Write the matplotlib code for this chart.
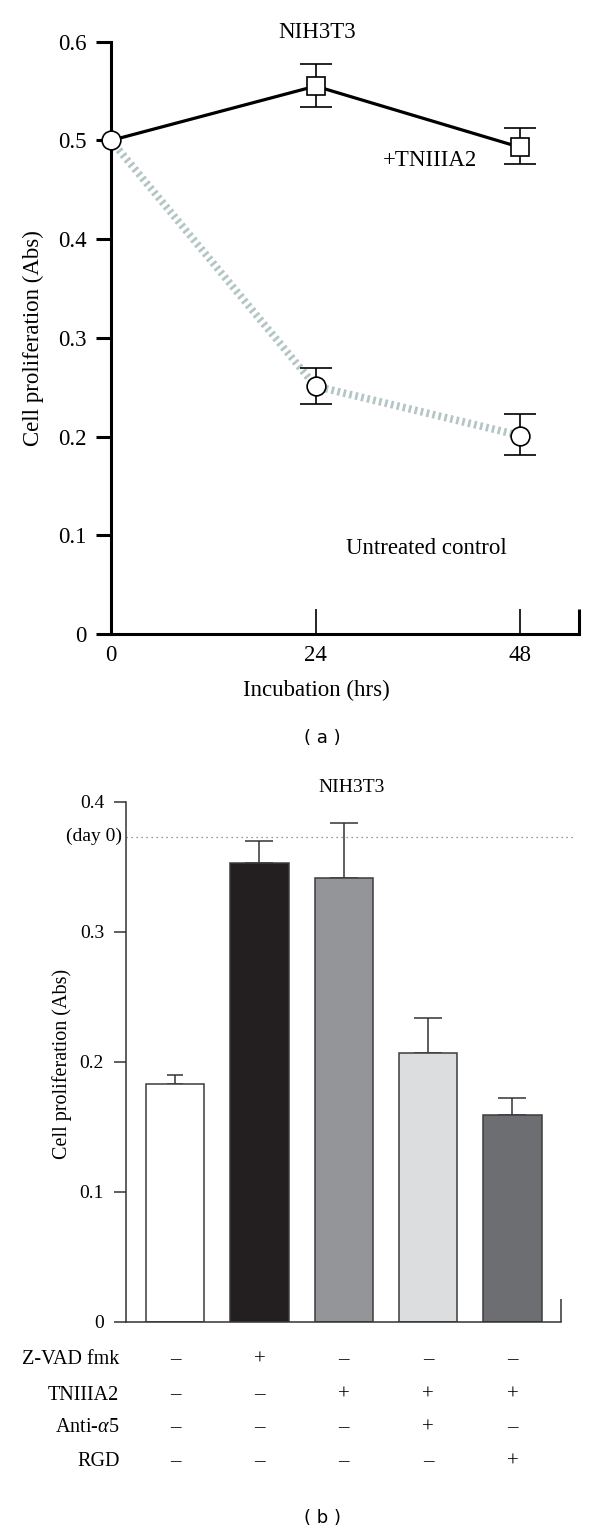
import matplotlib
matplotlib.use("Agg")
import matplotlib.pyplot as plt
import matplotlib.transforms as mtransforms

# ---------------- data ----------------
hours = [0, 24, 48]
tn_mean = [0.500, 0.555, 0.493]
tn_err_lo = [0.0, 0.021, 0.017]
tn_err_hi = [0.0, 0.022, 0.020]
ctrl_mean = [0.500, 0.251, 0.201]
ctrl_err_lo = [0.0, 0.018, 0.020]
ctrl_err_hi = [0.0, 0.018, 0.022]
top_yticks = [0, 0.1, 0.2, 0.3, 0.4, 0.5, 0.6]
top_yticklabels = ["0", "0.1", "0.2", "0.3", "0.4", "0.5", "0.6"]
top_xticks = [0, 24, 48]

bar_values = [0.183, 0.353, 0.341, 0.207, 0.159]
bar_err = [0.007, 0.017, 0.043, 0.027, 0.013]
bar_colors = ["#ffffff", "#231f20", "#939598", "#dcddde", "#6d6e71"]
day0_value = 0.373
bot_yticks = [0, 0.1, 0.2, 0.3, 0.4]
bot_yticklabels = ["0", "0.1", "0.2", "0.3", "0.4"]

row_labels = ["Z-VAD fmk", "TNIIIA2", "Anti-$\\alpha$5", "RGD"]
row_signs = [
    ["–", "+", "–", "–", "–"],
    ["–", "–", "+", "+", "+"],
    ["–", "–", "–", "+", "–"],
    ["–", "–", "–", "–", "+"],
]

# ---------------- figure ----------------
W, H = 600, 1534
fig = plt.figure(figsize=(W / 100, H / 100), dpi=100)
serif = "Liberation Serif"
plt.rcParams["mathtext.fontset"] = "custom"
plt.rcParams["mathtext.it"] = "Liberation Serif:italic"
plt.rcParams["mathtext.rm"] = "Liberation Serif"


def fx(px):
    return px / W


def fy(py):
    return 1 - py / H


# ---- panel (a) ----
ax1 = fig.add_axes([fx(111), fy(634), fx(578.6) - fx(111), (634 - 41.7) / H])
ax1.set_xlim(0, 54.85)
ax1.set_ylim(0, 0.6)
for s in ["top", "right"]:
    ax1.spines[s].set_visible(False)
for s in ["left", "bottom"]:
    ax1.spines[s].set_linewidth(2.2)

ax1.plot(hours, ctrl_mean, color="#b3c5c5", lw=5.5, linestyle=(0, (0.35, 0.45)),
         dash_capstyle="butt", zorder=2, clip_on=False)
ax1.errorbar(hours[1:], ctrl_mean[1:], yerr=[ctrl_err_lo[1:], ctrl_err_hi[1:]],
             fmt="none", ecolor="black", elinewidth=1.2, capsize=11.5, capthick=1.2, zorder=3)
ax1.plot(hours[1:], ctrl_mean[1:], "o", ms=13.5, mfc="white", mec="black", mew=1.2,
         zorder=4, clip_on=False)

ax1.plot(hours, tn_mean, color="black", lw=2.3, zorder=3, clip_on=False)
ax1.errorbar(hours[1:], tn_mean[1:], yerr=[tn_err_lo[1:], tn_err_hi[1:]],
             fmt="none", ecolor="black", elinewidth=1.2, capsize=11.5, capthick=1.2, zorder=3)
ax1.plot(hours[1:], tn_mean[1:], "s", ms=13, mfc="white", mec="black", mew=1.2,
         zorder=4, clip_on=False)
ax1.plot(hours[:1], tn_mean[:1], "o", ms=13.5, mfc="white", mec="black", mew=1.2,
         zorder=5, clip_on=False)

ax1.set_yticks(top_yticks)
ax1.set_yticklabels(top_yticklabels, fontfamily=serif, fontsize=16.5)
ax1.tick_params(axis="y", direction="out", length=10.8, width=2.2, pad=6.5)
ax1.set_xticks(top_xticks)
ax1.set_xticklabels([str(h) for h in top_xticks], fontfamily=serif, fontsize=16.5)
ax1.tick_params(axis="x", direction="in", length=18, width=1.2, pad=8)
ax1.set_xticks([54.85], minor=True)
ax1.tick_params(axis="x", which="minor", direction="in", length=18, width=2.2)
ax1.xaxis.get_major_ticks()[0].tick1line.set_visible(False)

fig.text(fx(317.6), fy(33), "NIH3T3", ha="center", va="center", fontfamily=serif, fontsize=16.5)
fig.text(fx(383), fy(160), "+TNIIIA2", ha="left", va="center", fontfamily=serif, fontsize=16.5)
fig.text(fx(346), fy(549), "Untreated control", ha="left", va="center", fontfamily=serif, fontsize=16.5)
fig.text(fx(316), fy(690), "Incubation (hrs)", ha="center", va="center", fontfamily=serif, fontsize=16.5)
fig.text(fx(33), fy(338), "Cell proliferation (Abs)", ha="center", va="center", rotation=90,
         fontfamily=serif, fontsize=16.5)
fig.text(fx(322), fy(738), "( a )", ha="center", va="center", fontfamily="DejaVu Sans", fontsize=13)

# ---- panel (b) ----
ax2 = fig.add_axes([fx(126.3), fy(1321.7), fx(561.4) - fx(126.3), (1321.7 - 801.7) / H])
xpos = list(range(len(bar_values)))
ax2.set_xlim(-0.578, 4.58)
ax2.set_ylim(0, 0.4)
for s in ["top", "right"]:
    ax2.spines[s].set_visible(False)
for s in ["left", "bottom"]:
    ax2.spines[s].set_linewidth(1.1)
    ax2.spines[s].set_color("#333333")

ax2.bar(xpos, bar_values, width=0.69, color=bar_colors, edgecolor="#3c3c3c", linewidth=1.1, zorder=2)
caps = [6, 10, 10, 10, 10]
for x, v, e, c in zip(xpos, bar_values, bar_err, caps):
    ax2.errorbar([x], [v], yerr=[[0], [e]], fmt="none", ecolor="#333333", elinewidth=1.1,
                 capsize=c, capthick=1.1, zorder=1)

ax2.axhline(day0_value, xmin=0, xmax=(576 - 126.3) / (561.4 - 126.3), color="#777777",
            lw=0.9, linestyle=(0, (1, 3)), clip_on=False, zorder=0)

ax2.set_yticks(bot_yticks)
ax2.set_yticklabels(bot_yticklabels, fontfamily=serif, fontsize=14)
ax2.tick_params(axis="y", direction="out", length=9, width=1.1, pad=7, color="#333333")
ax2.set_xticks([])
ax2.set_xticks([4.58], minor=True)
ax2.tick_params(axis="x", which="minor", direction="in", length=16.5, width=1.1, color="#333333")

ax2.text(-0.01, day0_value, "(day 0)", transform=mtransforms.blended_transform_factory(ax2.transAxes, ax2.transData),
         ha="right", va="center", fontfamily=serif, fontsize=14)

fig.text(fx(352), fy(788), "NIH3T3", ha="center", va="center", fontfamily=serif, fontsize=14)
fig.text(fx(62), fy(1064), "Cell proliferation (Abs)", ha="center", va="center", rotation=90,
         fontfamily=serif, fontsize=14.5)

row_y = [1360, 1395, 1428, 1462]
tr = mtransforms.blended_transform_factory(ax2.transData, fig.transFigure)
for lab, signs, py in zip(row_labels, row_signs, row_y):
    fig.text(fx(119.4), fy(py), lab, ha="right", va="center", fontfamily=serif, fontsize=14.5)
    for x, s in zip(xpos, signs):
        ax2.text(x, fy(py), s, transform=tr, ha="center", va="center", fontfamily=serif,
                 fontsize=15, clip_on=False)

fig.text(fx(322.6), fy(1518), "( b )", ha="center", va="center", fontfamily="DejaVu Sans", fontsize=13)

fig.savefig("out.png", dpi=100)
